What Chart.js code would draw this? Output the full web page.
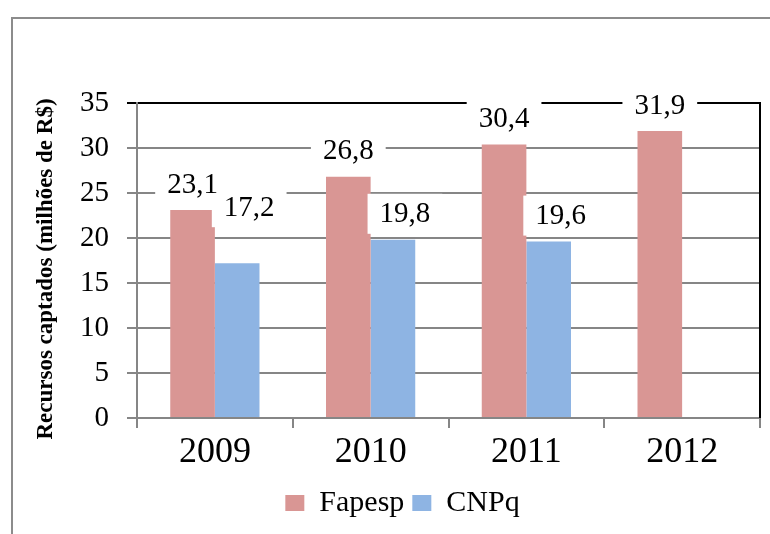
<!DOCTYPE html>
<html>
<head>
<meta charset="utf-8">
<script src="https://cdn.jsdelivr.net/npm/chart.js@4.4.0/dist/chart.umd.min.js"></script>
<style>
  html, body { margin: 0; padding: 0; background: #fff; }
  #wrap { width: 770px; height: 534px; position: relative; }
</style>
</head>
<body>
<div id="wrap"><canvas id="chart"></canvas></div>
<script>
    // --- Données ---
    const years = ['2009', '2010', '2011', '2012'];
    const fapesp = [23.1, 26.8, 30.4, 31.9];
    const cnpq = [17.2, 19.8, 19.6, null];
    const yTicks = [0, 5, 10, 15, 20, 25, 30, 35];

    const SERIF = '"Liberation Serif", "Times New Roman", serif';
    const GRID = '#868686';

    function formatValue(v) {
        return v.toFixed(1).replace('.', ',');
    }

    // Cadre gris extérieur + titre de l'axe Y
    const framePlugin = {
        id: 'frame',
        beforeDraw(chart) {
            const ctx = chart.ctx;
            ctx.save();
            ctx.fillStyle = '#fff';
            ctx.fillRect(0, 0, chart.width, chart.height);
            ctx.strokeStyle = '#8c8c8c';
            ctx.lineWidth = 2;
            ctx.strokeRect(12, 18, chart.width + 20, chart.height + 20);
            ctx.restore();
        },
        afterDraw(chart) {
            const ctx = chart.ctx;
            ctx.save();
            ctx.translate(46, 269);
            ctx.rotate(-Math.PI / 2);
            ctx.font = 'bold 23px ' + SERIF;
            ctx.fillStyle = '#000';
            ctx.textAlign = 'center';
            ctx.textBaseline = 'middle';
            ctx.fillText('Recursos captados (milhões de R$)', 0, 0);
            ctx.restore();
        }
    };

    // Bordure droite noire de la zone de tracé
    const borderPlugin = {
        id: 'plotBorder',
        beforeDatasetsDraw(chart) {
            const ctx = chart.ctx;
            const a = chart.chartArea;
            ctx.save();
            ctx.strokeStyle = '#000';
            ctx.lineWidth = 2;
            ctx.beginPath();
            ctx.moveTo(a.right, a.top - 1);
            ctx.lineTo(a.right, a.bottom);
            ctx.stroke();
            ctx.restore();
        }
    };

    // Étiquettes de valeurs sur fond blanc (Excel a remonté celle de CNPq 2009)
    const labelLift = { '1-0': 30 };

    const labelsPlugin = {
        id: 'valueLabels',
        afterDatasetsDraw(chart) {
            const ctx = chart.ctx;
            ctx.save();
            ctx.font = '29px ' + SERIF;
            ctx.textAlign = 'center';
            ctx.textBaseline = 'middle';
            const items = [];
            chart.data.datasets.forEach((ds, di) => {
                const meta = chart.getDatasetMeta(di);
                meta.data.forEach((bar, i) => {
                    const v = ds.data[i];
                    if (v === null || v === undefined) return;
                    const text = formatValue(v);
                    items.push({
                        text,
                        x: bar.x + (di === 1 ? 12 : 0),
                        y: bar.y - 26 - (labelLift[di + '-' + i] || 0),
                        w: ctx.measureText(text).width + 24,
                        h: 40
                    });
                });
            });
            // d'abord les fonds blancs, ensuite les textes
            ctx.fillStyle = '#fff';
            items.forEach(it => ctx.fillRect(it.x - it.w / 2, it.y - it.h / 2, it.w, it.h));
            ctx.fillStyle = '#000';
            items.forEach(it => ctx.fillText(it.text, it.x, it.y + 1));
            ctx.restore();
        }
    };

    new Chart(document.getElementById('chart'), {
        type: 'bar',
        data: {
            labels: years,
            datasets: [
                { label: 'Fapesp', data: fapesp, backgroundColor: 'rgb(217,150,148)' },
                { label: 'CNPq', data: cnpq, backgroundColor: 'rgb(142,180,227)' }
            ]
        },
        options: {
            responsive: true,
            maintainAspectRatio: false,
            animation: false,
            datasets: {
                bar: { categoryPercentage: 0.573, barPercentage: 1.0 }
            },
            layout: { padding: { left: 45, right: 10, top: 103, bottom: 6 } },
            plugins: {
                legend: {
                    position: 'bottom',
                    labels: {
                        font: { family: SERIF, size: 30 },
                        color: '#000',
                        boxWidth: 19,
                        boxHeight: 16,
                        padding: 8
                    }
                },
                tooltip: { enabled: false }
            },
            scales: {
                x: {
                    grid: {
                        display: true,
                        drawOnChartArea: false,
                        offset: true,
                        tickLength: 10,
                        color: GRID,
                        lineWidth: 2
                    },
                    border: { color: GRID, width: 2 },
                    ticks: {
                        font: { family: SERIF, size: 36 },
                        color: '#000',
                        padding: 3
                    },
                    afterFit(scale) { scale.height = 62; }
                },
                y: {
                    min: 0,
                    max: 35,
                    afterBuildTicks(scale) {
                        scale.ticks = yTicks.map(v => ({ value: v }));
                    },
                    grid: {
                        color: ctx => (ctx.tick && ctx.tick.value === 35 ? '#000' : GRID),
                        lineWidth: 2,
                        tickLength: 10
                    },
                    border: { color: GRID, width: 2 },
                    ticks: {
                        font: { family: SERIF, size: 29 },
                        color: '#000',
                        padding: 18
                    },
                    afterFit(scale) { scale.width = 92; }
                }
            }
        },
        plugins: [framePlugin, borderPlugin, labelsPlugin]
    });
</script>
</body>
</html>
